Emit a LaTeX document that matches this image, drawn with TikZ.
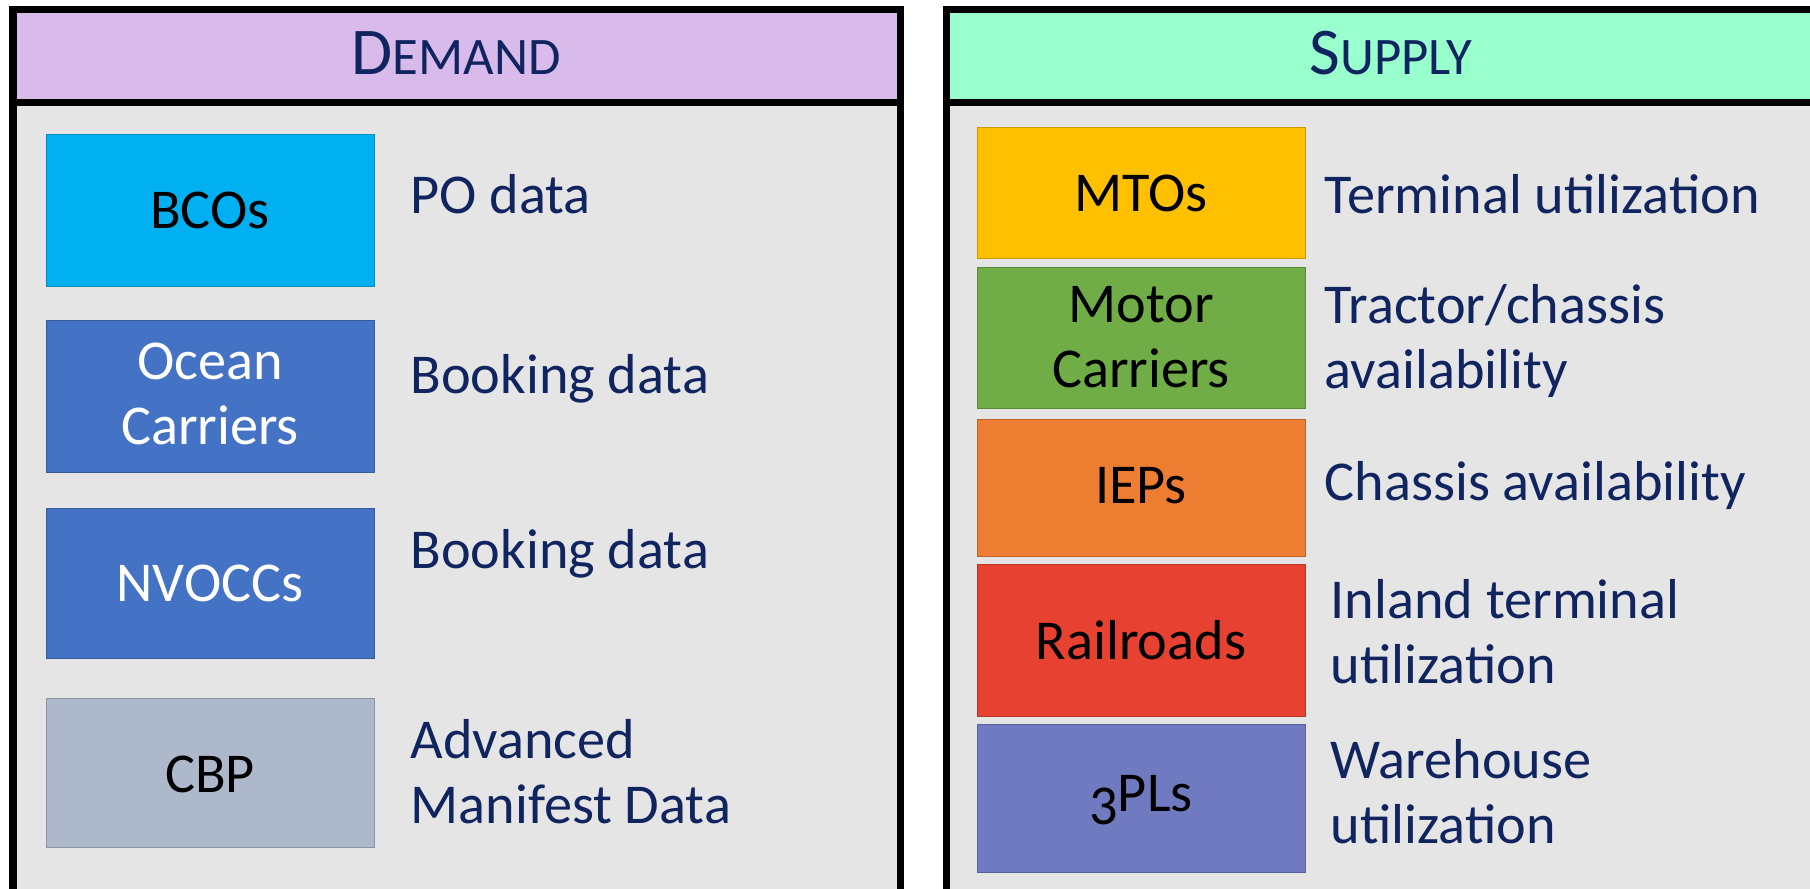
\documentclass[tikz,border=0pt]{standalone}
\usepackage{fontspec}
\setmainfont{Carlito}
\usetikzlibrary{positioning}
\definecolor{navy}{RGB}{16,36,96}
\definecolor{bodygray}{RGB}{229,229,229}
\definecolor{demandpurple}{RGB}{217,187,235}
\definecolor{supplymint}{RGB}{153,255,204}
\definecolor{bcocyan}{RGB}{0,176,240}
\definecolor{oceanblue}{RGB}{68,114,196}
\definecolor{cbpgray}{RGB}{173,185,202}
\definecolor{mtoyellow}{RGB}{255,192,0}
\definecolor{motorgreen}{RGB}{112,173,71}
\definecolor{ieporange}{RGB}{237,125,49}
\definecolor{railred}{RGB}{231,65,50}
\definecolor{plpurple}{RGB}{112,122,192}
\tikzset{
  frame/.style={draw=black,line width=2pt},
  actor/.style={draw=#1!80!black,fill=#1,very thin},
  boxtext/.style={font=\fontsize{16}{18.3}\selectfont,align=center,text=black,inner sep=0pt},
  datatext/.style={font=\fontsize{16}{18.3}\selectfont,align=left,text=navy,anchor=base west,inner sep=0pt},
  headtext/.style={text=navy,inner sep=0pt,anchor=base}
}

\begin{document}
\begin{tikzpicture}[x=0.01cm,y=-0.01cm]
\useasboundingbox (0,0) rectangle (1810,888);
\fill[white] (0,0) rectangle (1810,888);
\clip (0,0) rectangle (1810,888);

% demand panel
\fill[demandpurple] (13,9.5) rectangle (900,102.5);
\fill[bodygray] (13,102.5) rectangle (900,920);
\draw[frame] (13,920) -- (13,9.5) -- (900,9.5) -- (900,920);
\draw[frame] (13,102.5) -- (900,102.5);
\node[headtext] (demand) at (456,75) {{\fontsize{19}{19}\selectfont D}{\fontsize{15}{15}\selectfont EMAND}};

% supply panel
\fill[supplymint] (946.5,9.5) rectangle (1836,102.5);
\fill[bodygray] (946.5,102.5) rectangle (1836,920);
\draw[frame] (946.5,920) -- (946.5,9.5) -- (1836,9.5) -- (1836,920);
\draw[frame] (946.5,102.5) -- (1836,102.5);
\node[headtext] (supply) at (1391,75) {{\fontsize{19}{19}\selectfont S}{\fontsize{15}{15}\selectfont UPPLY}};

% demand actors
\draw[actor=bcocyan] (46,134) rectangle (374,286);
\draw[actor=oceanblue] (46,320) rectangle (374,472);
\draw[actor=oceanblue] (46,508) rectangle (374,658);
\draw[actor=cbpgray] (46,698) rectangle (374,847);
\node[boxtext] (bco) at (210,210) {BCOs};
\node[boxtext,text=white] (ocean) at (210,394) {Ocean\\Carriers};
\node[boxtext,text=white] (nvocc) at (210,583) {NVOCCs};
\node[boxtext] (cbp) at (210,774) {CBP};

\node[datatext] (bcodata) at (410,213) {PO data};
\node[datatext] (oceandata) at (410,393) {Booking data};
\node[datatext] (nvoccdata) at (410,568) {Booking data};
\node[datatext] (cbpdata) at (410,823) {Advanced\\Manifest Data};

% supply actors
\draw[actor=mtoyellow] (977,127) rectangle (1305,258);
\draw[actor=motorgreen] (977,267) rectangle (1305,408);
\draw[actor=ieporange] (977,419) rectangle (1305,556);
\draw[actor=railred] (977,564) rectangle (1305,716);
\draw[actor=plpurple] (977,724) rectangle (1305,872);
\node[boxtext] (mto) at (1141,193) {MTOs};
\node[boxtext] (motor) at (1141,337) {Motor\\Carriers};
\node[boxtext] (iep) at (1141,486) {IEPs};
\node[boxtext] (rail) at (1141,640) {Railroads};
\node[boxtext] (tpl) at (1141,800) {\raisebox{-0.22em}{3}PLs};

\node[datatext] (mtodata) at (1324,213) {Terminal utilization};
\node[datatext] (motordata) at (1324,388) {Tractor/chassis\\availability};
\node[datatext] (iepdata) at (1324,500) {Chassis availability};
\node[datatext] (raildata) at (1330,683) {Inland terminal\\utilization};
\node[datatext] (tpldata) at (1330,843) {Warehouse\\utilization};
\end{tikzpicture}
\end{document}
